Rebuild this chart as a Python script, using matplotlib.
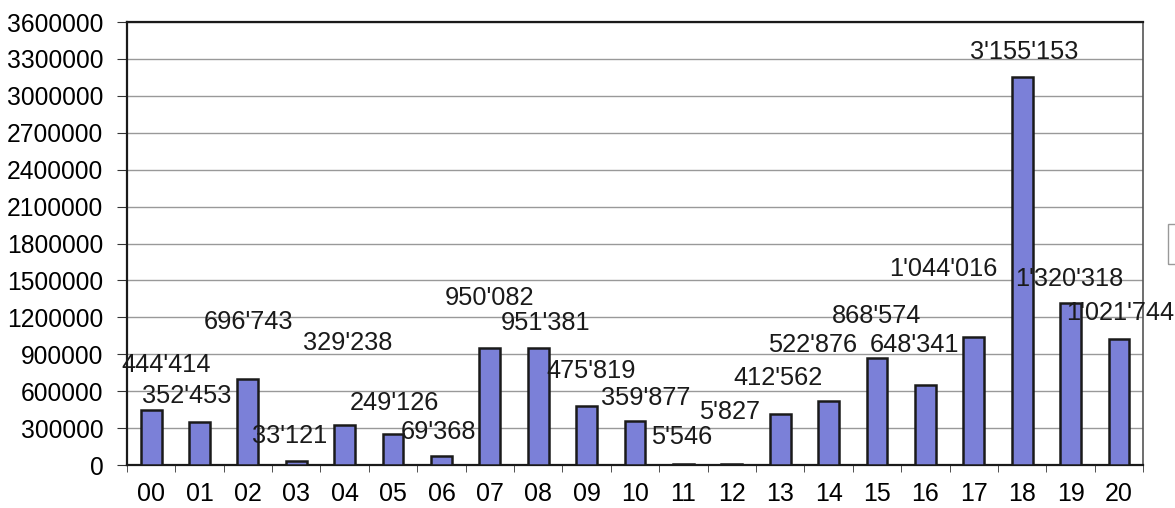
import numpy as np
import matplotlib
matplotlib.use('Agg')
import matplotlib.pyplot as plt
from matplotlib.patches import Rectangle

plt.rcParams['font.family'] = ['Liberation Sans', 'DejaVu Sans']

# chart data
years = ['00', '01', '02', '03', '04', '05', '06', '07', '08', '09', '10',
         '11', '12', '13', '14', '15', '16', '17', '18', '19', '20']
values = [444414, 352453, 696743, 33121, 329238, 249126, 69368, 950082,
          951381, 475819, 359877, 5546, 5827, 412562, 522876, 868574,
          648341, 1044016, 3155153, 1320318, 1021744]

# where the value labels were dragged to (category index, value units)
labelX = [0.31, 0.74, 2.02, 2.87, 4.07, 5.02, 5.93, 7.0, 8.16, 9.1, 10.22,
          10.97, 11.96, 12.95, 13.67, 14.98, 15.78, 16.36, 18.03, 18.98, 20.02]
labelY = [812000, 560000, 1162000, 236000, 991000, 504000, 268000, 1357000,
          1154000, 764000, 544000, 228000, 431000, 707000, 975000, 1211000,
          975000, 1593000, 3356000, 1511000, 1235000]


def fmt(v):
    return f'{v:,}'.replace(',', "'")


fig = plt.figure(figsize=(11.75, 5.08), dpi=100)
ax = fig.add_axes([0.108, 0.0846, 0.865, 0.872])

x = np.arange(len(years))
ax.bar(x, values, width=0.43, color='#7b80d8', edgecolor='#1a1a1a',
       linewidth=1.8, zorder=3)

for lx, ly, v in zip(labelX, labelY, values):
    ax.text(lx, ly, fmt(v), ha='center', va='center', fontsize=18.3,
            color='#1a1a1a', zorder=4)

ax.set_xlim(-0.5, len(years) - 0.5)
ax.set_ylim(0, 3600000)
ax.set_yticks(np.arange(0, 3600001, 300000))
ax.set_yticklabels([str(t) for t in range(0, 3600001, 300000)], fontsize=17.7)
ax.yaxis.grid(True, color='#999999', linewidth=1.0, zorder=0)

ax.set_xticks(x)
ax.set_xticklabels(years, fontsize=18)
ax.set_xticks(np.arange(-0.5, len(years)), minor=True)
ax.tick_params(axis='x', which='major', length=0, pad=12)
ax.tick_params(axis='x', which='minor', length=5, color='#333333')
ax.tick_params(axis='y', length=7, color='#333333', pad=10)

for side in ['left', 'top', 'bottom']:
    ax.spines[side].set_linewidth(1.6)
    ax.spines[side].set_color('#1a1a1a')
ax.spines['right'].set_color('#555555')
ax.spines['right'].set_linewidth(1.2)

# leftover legend box clipped at the right edge
fig.patches.append(Rectangle((1168 / 1175, (508 - 264) / 508), 0.02, 40 / 508,
                             transform=fig.transFigure, fill=False,
                             edgecolor='#999999', linewidth=1.0))

fig.savefig('out.png', dpi=100)
